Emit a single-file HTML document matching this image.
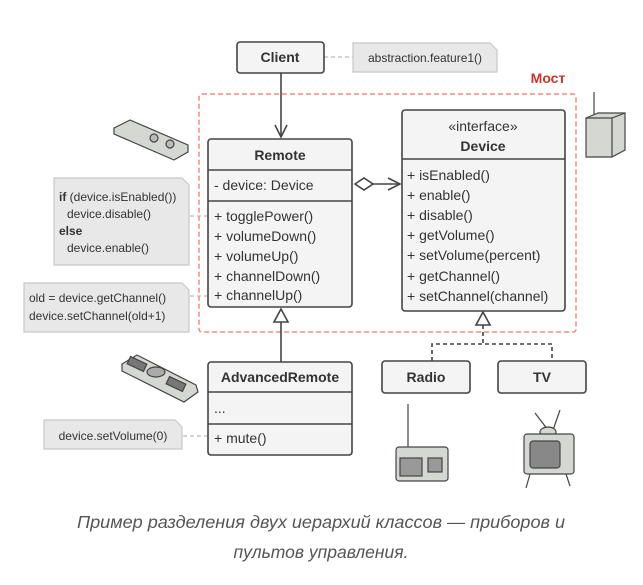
<!DOCTYPE html>
<html><head><meta charset="utf-8"><style>
body{margin:0;background:#fff;}
svg{display:block;font-family:"Liberation Sans",sans-serif;}
.t{font-size:14px;fill:#333;}
.n{font-size:12px;fill:#333;}
.b{font-weight:bold;}
</style></head><body>
<svg width="643" height="585" viewBox="0 0 643 585" xmlns="http://www.w3.org/2000/svg">
<rect x="199" y="94" width="377" height="238" rx="3" fill="none" stroke="#f28c7e" stroke-width="1.5" stroke-dasharray="5,3"/>
<text x="548" y="83" text-anchor="middle" font-size="14" font-weight="bold" fill="#c9352b">Мост</text>

<g stroke="#bbb" stroke-width="1.3" stroke-dasharray="4,3" fill="none">
<line x1="324" y1="57" x2="353" y2="57"/>
<line x1="190" y1="216" x2="208" y2="216"/>
<line x1="190" y1="296" x2="208" y2="296"/>
<line x1="183" y1="436" x2="208" y2="436"/>
</g>
<g fill="#e8e8e8" stroke="#c8c8c8" stroke-width="1.2">
<path d="M353 43 H490 L497 50 V72 H353 Z"/>
<path d="M54 178 H182 L189 185 V265 H54 Z"/>
<path d="M24 283 H182 L189 290 V332 H24 Z"/>
<path d="M44 420 H175 L182 427 V449 H44 Z"/>
</g>
<text x="425" y="62" text-anchor="middle" class="n">abstraction.feature1()</text>
<text class="n"><tspan x="59" y="201"><tspan font-weight="bold">if</tspan> (device.isEnabled())</tspan><tspan x="67" y="218">device.disable()</tspan><tspan x="59" y="235" font-weight="bold">else</tspan><tspan x="67" y="252">device.enable()</tspan></text>
<text class="n"><tspan x="29" y="302">old = device.getChannel()</tspan><tspan x="29" y="320">device.setChannel(old+1)</tspan></text>
<text x="113" y="440" text-anchor="middle" class="n">device.setVolume(0)</text>

<rect x="237" y="42" width="87" height="31" rx="3" fill="#f4f4f4" stroke="#444" stroke-width="1.6"/>
<text x="280" y="62" text-anchor="middle" class="t b">Client</text>
<g stroke="#444" stroke-width="1.6" fill="none">
<line x1="281" y1="73" x2="281" y2="137"/>
<polyline points="275,125 281,137 287,125"/>
</g>

<rect x="208" y="139" width="144" height="168" rx="3" fill="#f4f4f4" stroke="#444" stroke-width="1.6"/>
<line x1="208" y1="170" x2="352" y2="170" stroke="#444" stroke-width="1.6"/>
<line x1="208" y1="201" x2="352" y2="201" stroke="#444" stroke-width="1.6"/>
<text x="280" y="160" text-anchor="middle" class="t b">Remote</text>
<text x="214" y="190" class="t">- device: Device</text>
<text class="t"><tspan x="214" y="221">+ togglePower()</tspan><tspan x="214" y="241">+ volumeDown()</tspan><tspan x="214" y="261">+ volumeUp()</tspan><tspan x="214" y="281">+ channelDown()</tspan><tspan x="214" y="300">+ channelUp()</tspan></text>

<g stroke="#444" stroke-width="1.6" fill="none">
<polygon points="355,184 364,178 373,184 364,190" fill="#fff"/>
<line x1="373" y1="184" x2="400" y2="184"/>
<polyline points="388,178 400,184 388,190"/>
</g>

<rect x="402" y="110" width="163" height="201" rx="3" fill="#f4f4f4" stroke="#444" stroke-width="1.6"/>
<line x1="402" y1="159" x2="565" y2="159" stroke="#444" stroke-width="1.6"/>
<text x="483" y="131" text-anchor="middle" class="t">«interface»</text>
<text x="483" y="151" text-anchor="middle" class="t b">Device</text>
<text class="t"><tspan x="407" y="180">+ isEnabled()</tspan><tspan x="407" y="200">+ enable()</tspan><tspan x="407" y="220">+ disable()</tspan><tspan x="407" y="240">+ getVolume()</tspan><tspan x="407" y="260">+ setVolume(percent)</tspan><tspan x="407" y="281">+ getChannel()</tspan><tspan x="407" y="301">+ setChannel(channel)</tspan></text>

<g stroke="#444" stroke-width="1.6">
<line x1="281" y1="322" x2="281" y2="362"/>
<polygon points="281,309 274,322 288,322" fill="#fff"/>
</g>
<g stroke="#444" stroke-width="1.6" fill="none">
<polyline points="483,325 483,344" stroke-dasharray="4,3"/>
<polyline points="432,361 432,344 552,344 552,361" stroke-dasharray="4,3"/>
<polygon points="483,312 476,325 490,325" fill="#fff"/>
</g>

<rect x="208" y="362" width="144" height="93" rx="3" fill="#f4f4f4" stroke="#444" stroke-width="1.6"/>
<line x1="208" y1="392" x2="352" y2="392" stroke="#444" stroke-width="1.6"/>
<line x1="208" y1="424" x2="352" y2="424" stroke="#444" stroke-width="1.6"/>
<text x="280" y="382" text-anchor="middle" class="t b">AdvancedRemote</text>
<text x="214" y="413" class="t">...</text>
<text x="214" y="443" class="t">+ mute()</text>

<rect x="382" y="361" width="88" height="32" rx="3" fill="#f4f4f4" stroke="#444" stroke-width="1.6"/>
<text x="426" y="382" text-anchor="middle" class="t b">Radio</text>
<rect x="498" y="361" width="88" height="32" rx="3" fill="#f4f4f4" stroke="#444" stroke-width="1.6"/>
<text x="542" y="382" text-anchor="middle" class="t b">TV</text>

<g stroke="#444" stroke-width="1.2" fill="#d5d8d2">
<path d="M114 128 L130 120 L188 145 L188 152 L174 160 L114 134 Z"/>
<circle cx="154" cy="138" r="4" fill="#bbb"/><circle cx="170" cy="144" r="4" fill="#bbb"/>
<path d="M122 364 L137 355 L196 385 L198 392 L184 402 L122 371 Z"/>
<ellipse cx="156" cy="372" rx="9" ry="5" fill="#aaa"/>
<rect x="128" y="360" width="18" height="8" fill="#777" transform="rotate(25 137 364)"/>
<rect x="167" y="380" width="18" height="8" fill="#777" transform="rotate(25 176 384)"/>
<line x1="594" y1="92" x2="594" y2="118"/>
<path d="M586 118 L598 113 L625 113 L625 150 L612 157 L586 157 Z"/>
<path d="M586 118 L612 118 L625 113 M612 118 L612 157" fill="none"/>
<line x1="408" y1="404" x2="408" y2="450"/>
<rect x="396" y="447" width="52" height="34" rx="3"/>
<rect x="400" y="458" width="22" height="18" fill="#999"/>
<rect x="428" y="458" width="14" height="14" fill="#999"/>
<line x1="535" y1="413" x2="548" y2="430"/><line x1="560" y1="410" x2="553" y2="430"/>
<ellipse cx="548" cy="432" rx="8" ry="5"/>
<rect x="524" y="434" width="50" height="40" rx="3"/>
<rect x="530" y="441" width="30" height="27" rx="3" fill="#888"/>
<line x1="530" y1="474" x2="526" y2="488"/><line x1="566" y1="474" x2="570" y2="486"/>
</g>

<text x="321" y="528" text-anchor="middle" font-size="17.5" font-style="italic" fill="#555" textLength="488" lengthAdjust="spacingAndGlyphs">Пример разделения двух иерархий классов — приборов и</text>
<text x="321" y="558" text-anchor="middle" font-size="17.5" font-style="italic" fill="#555">пультов управления.</text>
</svg>
</body></html>
